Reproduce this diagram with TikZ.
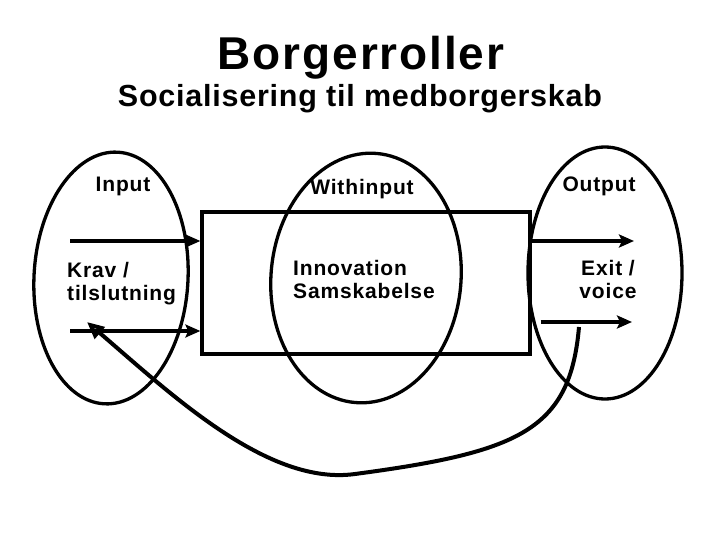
\documentclass[tikz,border=0pt]{standalone}
\usepackage{fontspec}
\setmainfont{Liberation Sans}
\newfontfamily\spacedfont[LetterSpace=4]{Liberation Sans}
\newfontfamily\subfont[LetterSpace=2.5]{Liberation Sans}
\usetikzlibrary{shapes.geometric, arrows.meta, positioning}

\begin{document}
\begin{tikzpicture}[
  x=1pt, y=-1pt,
  ring/.style={ellipse, draw, line width=3.3pt, inner sep=0pt, minimum width=154pt, minimum height=252pt},
  heading/.style={anchor=base, inner sep=0pt, font=\spacedfont\bfseries\fontsize{46}{50}\selectfont},
  subheading/.style={anchor=base, inner sep=0pt, font=\subfont\bfseries\fontsize{30.5}{34}\selectfont},
  lbl/.style={inner sep=0pt, font=\spacedfont\bfseries\fontsize{21}{23}\selectfont},
  arr/.style={-{Stealth[length=15pt, width=13pt, inset=3pt]}, line width=3.3pt},
  back/.style={-{Triangle[open, length=17pt, width=15pt]}, line width=4pt}
]
\useasboundingbox (0,0) rectangle (720,540);

% titles
\node[heading] (title) at (361,70) {Borgerroller};
\node[subheading] (subtitle) at (360,107) {Socialisering til medborgerskab};

% the three roles
\node[ring, rotate=-3] (inring) at (111,278) {};
\node[ring, rotate=-5, minimum width=190pt, minimum height=250pt] (withring) at (366,278) {};
\node[ring] (outring) at (605,273) {};
\node[draw, line width=3.3pt, minimum width=328pt, minimum height=142pt, inner sep=0pt] (box) at (366,283) {};

\node[lbl, anchor=base] (inlbl) at (123,192) {Input};
\node[lbl, anchor=base] (withlbl) at (362,195) {Withinput};
\node[lbl, anchor=base] (outlbl) at (599,192) {Output};
\node[lbl, anchor=north west, align=left] (krav) at (67,262) {Krav /\\tilslutning};
\node[lbl, anchor=north west, align=left] (innov) at (293,260) {Innovation\\Samskabelse};
\node[lbl, anchor=north, align=center] (exit) at (608,260) {Exit /\\voice};

% arrows
\coordinate (inA) at (70,241);
\coordinate (inB) at (70,331);
\coordinate (outA) at (634,241);
\coordinate (outB) at (632,322);
\coordinate (fbstart) at (579,327);
\coordinate (fbend) at (87,322);

\draw[arr] (inA) -- (inA -| box.west);
\draw[arr] (inB) -- (inB -| box.west);
\draw[arr] (box.east |- outA) -- (outA);
\draw[arr] ([xshift=9pt]box.east |- outB) -- (outB);
\draw[back] (fbstart) .. controls (570,430) and (520,452) .. (355,474)
  .. controls (268,486) and (172,395) .. (fbend);
\end{tikzpicture}
\end{document}
